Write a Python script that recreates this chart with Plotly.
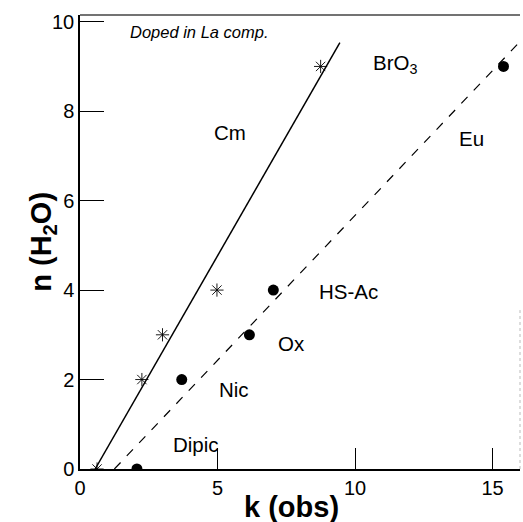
import plotly.graph_objects as go

# Data
cm_k = [0.62, 2.25, 3.0, 4.98, 8.75]
cm_n = [0, 2, 3, 4, 9]
eu_k = [2.07, 3.7, 6.16, 7.03, 15.4]
eu_n = [0, 2, 3, 4, 9]
cm_fit_k = [0.55, 9.45]
cm_fit_n = [0, 9.53]
eu_fit_k = [1.25, 15.9]
eu_fit_n = [0, 9.49]

labels = ["Cm", "BrO<sub>3</sub>", "Eu", "HS-Ac", "Ox", "Nic", "Dipic"]
label_k = [5.45, 11.45, 14.25, 9.75, 7.7, 5.6, 4.22]
label_n = [7.52, 9.05, 7.4, 3.96, 2.8, 1.77, 0.54]

x_ticks = [0, 5, 10, 15]
y_ticks = [0, 2, 4, 6, 8, 10]

FONT = "Liberation Sans, Arial, Helvetica, sans-serif"

fig = go.Figure()
fig.add_trace(go.Scatter(x=cm_fit_k, y=cm_fit_n, mode="lines",
                         line=dict(color="black", width=1.5), showlegend=False))
fig.add_trace(go.Scatter(x=eu_fit_k, y=eu_fit_n, mode="lines",
                         line=dict(color="black", width=1.2, dash="9px,9px"), showlegend=False))
fig.add_trace(go.Scatter(x=cm_k, y=cm_n, mode="markers",
                         marker=dict(symbol="asterisk-open", size=11, color="black",
                                     line=dict(color="black", width=0.9)), showlegend=False))
fig.add_trace(go.Scatter(x=eu_k, y=eu_n, mode="markers",
                         marker=dict(symbol="circle", size=11, color="black"), showlegend=False))

for t, x, y in zip(labels, label_k, label_n):
    fig.add_annotation(x=x, y=y, text=t, showarrow=False,
                       font=dict(family=FONT, size=20.5, color="black"))

fig.add_annotation(x=4.33, y=9.78, text="<i>Doped in La comp.</i>", showarrow=False,
                   font=dict(family=FONT, size=16.5, color="black"))

# axis titles
fig.add_annotation(xref="paper", yref="paper", x=0.48, y=-0.083, yanchor="middle",
                   text="<b>k (obs)</b>", showarrow=False,
                   font=dict(family=FONT, size=29, color="black"))
fig.add_annotation(xref="paper", yref="paper", x=-0.13, y=0.5, textangle=-90,
                   text="<b>n (H<sub>2</sub>O)</b>", showarrow=False,
                   font=dict(family=FONT, size=29, color="black"))

# top and right frame lines
fig.add_shape(type="line", xref="paper", yref="paper", x0=0, x1=1, y0=1, y1=1,
              line=dict(color="#444", width=1.5))
fig.add_shape(type="line", xref="paper", yref="paper", x0=1, x1=1, y0=0, y1=0.35,
              line=dict(color="#bbb", width=1, dash="dot"))

fig.update_layout(
    width=523, height=522,
    margin=dict(l=80, r=3, t=15, b=53),
    paper_bgcolor="white", plot_bgcolor="white",
    font=dict(family=FONT, color="black"),
    xaxis=dict(range=[0, 16], tickvals=x_ticks, ticks="inside", ticklen=21,
               tickwidth=1.2, tickcolor="black", showgrid=False, zeroline=False,
               showline=True, linecolor="black", linewidth=1.5,
               tickfont=dict(size=20, family=FONT)),
    yaxis=dict(range=[0, 10.15], tickvals=y_ticks, ticks="inside", ticklen=24,
               tickwidth=1.2, tickcolor="black", showgrid=False, zeroline=False,
               showline=True, linecolor="black", linewidth=1.5,
               tickfont=dict(size=20, family=FONT)),
)

fig.write_html("out.html")
